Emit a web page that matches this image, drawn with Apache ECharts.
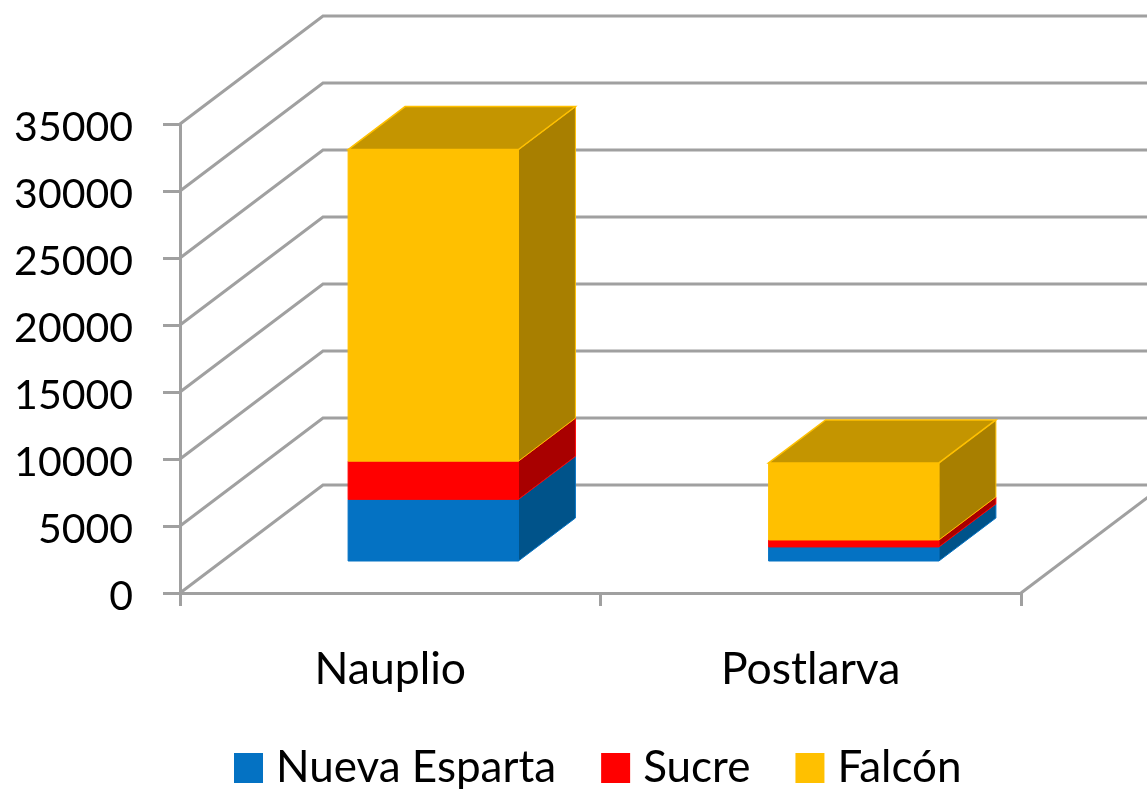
<!DOCTYPE html>
<html>
<head>
<meta charset="utf-8">
<style>
html, body { margin: 0; padding: 0; background: #fff; }
#main { width: 1147px; height: 789px; }
</style>
<script src="https://cdn.jsdelivr.net/npm/echarts@6/dist/echarts.min.js"></script>
</head>
<body>
<div id="main"></div>
<script>
var categories = ['Nauplio', 'Postlarva'];
var tickValues = [0, 5000, 10000, 15000, 20000, 25000, 30000, 35000];
var nuevaEsparta = [4600, 1050];
var sucre = [2850, 520];
var falcon = [23250, 5750];

var chart = echarts.init(document.getElementById('main'));

var fontName = 'Lato';
var gridColor = '#a0a0a0';
// how far the chart is pushed back: whole floor, gap in front of a bar, bar depth
var wallDx = 143, wallDy = -108;
var frontDx = 43, frontDy = -32;
var depthDx = 57, depthDy = -43;

var renderWall = function (params, api) {
    var y = api.coord([0, api.value(1)])[1];
    var left = params.coordSys.x;
    var right = left + params.coordSys.width;
    var style = { stroke: gridColor, lineWidth: 3, fill: null };
    var children = [{
        type: 'polyline',
        shape: { points: [[left, y], [left + wallDx, y + wallDy], [1147, y + wallDy]] },
        style: style
    }];
    if (api.value(1) === 0) {
        children.push({
            type: 'line',
            shape: { x1: right, y1: y, x2: right + wallDx, y2: y + wallDy },
            style: style
        });
    }
    return { type: 'group', children: children };
};

var makeBar = function (front, top, side, isLast) {
    return function (params, api) {
        var bottomPt = api.coord([api.value(0), api.value(1)]);
        var topPt = api.coord([api.value(0), api.value(2)]);
        var w = api.size([1, 0])[0] * 0.405;
        var x0 = bottomPt[0] - w / 2 + frontDx;
        var x1 = x0 + w;
        var y0 = bottomPt[1] + frontDy;
        var y1 = topPt[1] + frontDy;
        var children = [{
            type: 'polygon',
            shape: { points: [[x1, y0], [x1 + depthDx, y0 + depthDy], [x1 + depthDx, y1 + depthDy], [x1, y1]] },
            style: { fill: side, stroke: front, lineWidth: 1 }
        }, {
            type: 'rect',
            shape: { x: x0, y: y1, width: w, height: y0 - y1 },
            style: { fill: front, stroke: front, lineWidth: 1 }
        }];
        if (isLast) {
            children.push({
                type: 'polygon',
                shape: { points: [[x0, y1], [x0 + depthDx, y1 + depthDy], [x1 + depthDx, y1 + depthDy], [x1, y1]] },
                style: { fill: top, stroke: front, lineWidth: 1.5 }
            });
        }
        return { type: 'group', children: children };
    };
};

// stack the values, each item is [category, from, to]
var base = [0, 0];
var stackUp = function (values) {
    return values.map(function (v, i) {
        var item = [i, base[i], base[i] + v];
        base[i] += v;
        return item;
    });
};

var option = {
    animation: false,
    backgroundColor: '#fff',
    textStyle: { fontFamily: fontName },
    grid: { left: 180, right: 126, top: 124, bottom: 196 },
    legend: {
        data: ['Nueva Esparta', 'Sucre', 'Falcón'],
        left: 229,
        top: 741,
        itemWidth: 29,
        itemHeight: 30,
        itemGap: 45,
        icon: 'rect',
        textStyle: { fontFamily: fontName, fontSize: 44, color: '#000', padding: [0, 0, 0, 8] }
    },
    xAxis: {
        type: 'category',
        data: categories,
        axisLine: { show: true, lineStyle: { color: gridColor, width: 3 } },
        axisTick: { show: true, length: 13, lineStyle: { color: gridColor, width: 3 } },
        axisLabel: { color: '#000', fontSize: 44.5, fontFamily: fontName, margin: 54 }
    },
    yAxis: {
        type: 'value',
        min: 0,
        max: 35000,
        interval: 5000,
        axisLine: { show: true, lineStyle: { color: gridColor, width: 3 } },
        axisTick: { show: true, length: 17, lineStyle: { color: gridColor, width: 3 } },
        axisLabel: {
            color: '#000',
            fontSize: 41,
            fontFamily: fontName,
            margin: 47,
            // top aligned with a short line box, sits the digits a little under the tick
            verticalAlign: 'top',
            lineHeight: 8,
            formatter: function (v) { return String(v); }
        },
        splitLine: { show: false }
    },
    series: [
        {
            name: 'wall',
            type: 'custom',
            renderItem: renderWall,
            data: tickValues.map(function (v) { return [0, v]; }),
            silent: true
        },
        {
            name: 'Nueva Esparta',
            type: 'custom',
            itemStyle: { color: '#0472c3' },
            renderItem: makeBar('#0472c3', '#03588f', '#00538a', false),
            data: stackUp(nuevaEsparta)
        },
        {
            name: 'Sucre',
            type: 'custom',
            itemStyle: { color: '#ff0000' },
            renderItem: makeBar('#ff0000', '#c00000', '#a80000', false),
            data: stackUp(sucre)
        },
        {
            name: 'Falcón',
            type: 'custom',
            itemStyle: { color: '#ffc000' },
            renderItem: makeBar('#ffc000', '#c49500', '#a87f00', true),
            data: stackUp(falcon)
        }
    ]
};
chart.setOption(option);
</script>
</body>
</html>
